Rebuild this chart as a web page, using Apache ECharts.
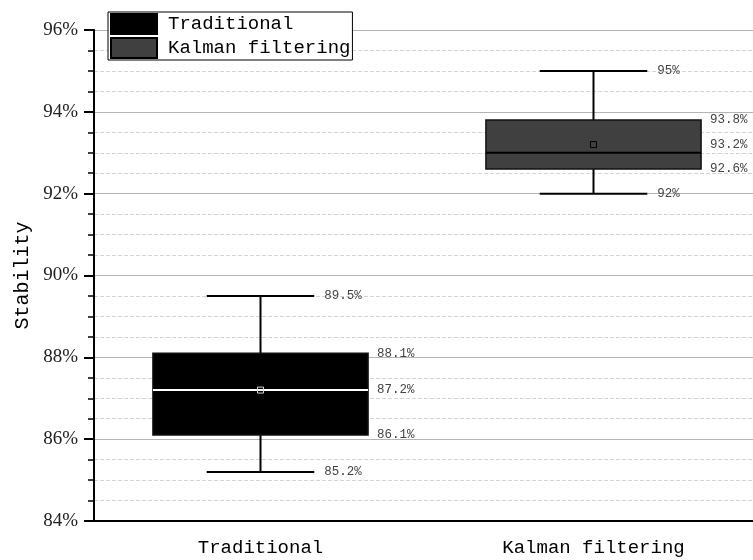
<!DOCTYPE html>
<html>
<head>
<meta charset="utf-8">
<script src="https://cdn.jsdelivr.net/npm/echarts@6/dist/echarts.min.js"></script>
<style>html,body{margin:0;padding:0;background:#fff;}#main{width:753px;height:560px;}</style>
</head>
<body>
<div id="main"></div>
<script>
const categories = ['Traditional', 'Kalman filtering'];
const minValues = [85.2, 92];
const q1Values = [86.1, 92.6];
const medianValues = [87.2, 93.0];
const q3Values = [88.1, 93.8];
const maxValues = [89.5, 95];
const meanValues = [87.2, 93.2];
const boxFill = ['#000000', '#404040'];
const medianColor = ['#ffffff', '#000000'];
const markerColor = ['#d8d8d8', '#000000'];

const mono = '"Liberation Mono", "DejaVu Sans Mono", monospace';
const serif = '"Liberation Serif", "DejaVu Serif", serif';

function fmt(v) {
  return (Math.round(v * 10) % 10 === 0 ? v.toFixed(0) : v.toFixed(1)) + '%';
}

function makeRender(idx) {
  return function (params, api) {
    const x = api.value(0);
    const pMin = api.coord([x, api.value(1)]);
    const pQ1 = api.coord([x, api.value(2)]);
    const pMed = api.coord([x, api.value(3)]);
    const pQ3 = api.coord([x, api.value(4)]);
    const pMax = api.coord([x, api.value(5)]);
    const pMean = api.coord([x, api.value(6)]);
    const cx = pMin[0];
    const bw = api.size([1, 0])[0] * 0.646;
    const half = bw / 2, cap = bw / 4;
    const ls = { stroke: '#000', lineWidth: 2 };
    const tf = '12.5px ' + mono;
    const tc = '#444';
    return {
      type: 'group',
      children: [
        { type: 'line', shape: { x1: cx, y1: pMax[1], x2: cx, y2: pQ3[1] }, style: ls },
        { type: 'line', shape: { x1: cx, y1: pQ1[1], x2: cx, y2: pMin[1] }, style: ls },
        { type: 'line', shape: { x1: cx - cap, y1: pMax[1], x2: cx + cap, y2: pMax[1] }, style: ls },
        { type: 'line', shape: { x1: cx - cap, y1: pMin[1], x2: cx + cap, y2: pMin[1] }, style: ls },
        { type: 'rect', shape: { x: cx - half, y: pQ3[1], width: bw, height: pQ1[1] - pQ3[1] },
          style: { fill: boxFill[idx], stroke: '#111', lineWidth: 1.5 } },
        { type: 'line', shape: { x1: cx - half, y1: pMed[1], x2: cx + half, y2: pMed[1] },
          style: { stroke: medianColor[idx], lineWidth: 2 } },
        { type: 'rect', shape: { x: cx - 3, y: pMean[1] - 3, width: 6, height: 6 },
          style: { fill: 'none', stroke: markerColor[idx], lineWidth: 1 } },
        { type: 'text', style: { text: fmt(api.value(5)), x: cx + cap + 10, y: pMax[1], align: 'left', verticalAlign: 'middle', font: tf, fill: tc } },
        { type: 'text', style: { text: fmt(api.value(1)), x: cx + cap + 10, y: pMin[1], align: 'left', verticalAlign: 'middle', font: tf, fill: tc } },
        { type: 'text', style: { text: fmt(api.value(4)), x: cx + half + 9, y: pQ3[1], align: 'left', verticalAlign: 'middle', font: tf, fill: tc } },
        { type: 'text', style: { text: fmt(api.value(6)), x: cx + half + 9, y: pMean[1], align: 'left', verticalAlign: 'middle', font: tf, fill: tc } },
        { type: 'text', style: { text: fmt(api.value(2)), x: cx + half + 9, y: pQ1[1], align: 'left', verticalAlign: 'middle', font: tf, fill: tc } }
      ]
    };
  };
}

const series = categories.map((name, i) => ({
  type: 'custom',
  name: name,
  renderItem: makeRender(i),
  itemStyle: { color: boxFill[i], borderColor: '#000', borderWidth: 1 },
  encode: { x: 0, y: [1, 2, 3, 4, 5, 6] },
  data: [[i, minValues[i], q1Values[i], medianValues[i], q3Values[i], maxValues[i], meanValues[i]]],
  z: 5
}));

const chart = echarts.init(document.getElementById('main'), null, { renderer: 'canvas' });
chart.setOption({
  animation: false,
  backgroundColor: '#fff',
  grid: { left: 94, right: -7, top: 30, bottom: 39, containLabel: false, outerBoundsMode: 'none' },
  legend: {
    orient: 'vertical', left: 108, top: 12,
    itemWidth: 46, itemHeight: 20, itemGap: 2,
    padding: [1, 2, 1, 2],
    borderColor: '#000', borderWidth: 1, backgroundColor: '#fff',
    icon: 'rect',
    textStyle: { fontFamily: mono, fontSize: 19, color: '#000', padding: [0, 0, 0, 6] },
    data: categories
  },
  xAxis: {
    type: 'category', data: categories,
    axisLine: { lineStyle: { color: '#000', width: 2 } },
    axisTick: { alignWithLabel: true, length: 8, lineStyle: { color: '#000', width: 2 } },
    axisLabel: { fontFamily: mono, fontSize: 19, color: '#000', margin: 17 },
    splitLine: { show: false }
  },
  yAxis: {
    type: 'value', min: 84, max: 96, interval: 2,
    name: 'Stability', nameLocation: 'middle', nameRotate: 90, nameGap: 58,
    nameTextStyle: { fontFamily: mono, fontSize: 20, color: '#000' },
    axisLine: { show: true, lineStyle: { color: '#000', width: 2 } },
    axisTick: { show: true, length: 10, lineStyle: { color: '#000', width: 2 } },
    minorTick: { show: true, splitNumber: 4, length: 6, lineStyle: { color: '#000', width: 1.5 } },
    axisLabel: { fontFamily: serif, fontSize: 19, color: '#222', margin: 16, formatter: v => v + '%' },
    splitLine: { show: true, lineStyle: { color: '#b4b4b4', width: 1 } },
    minorSplitLine: { show: true, lineStyle: { color: '#d4d4d4', width: 1, type: 'dashed' } }
  },
  series: series
});
</script>
</body>
</html>
